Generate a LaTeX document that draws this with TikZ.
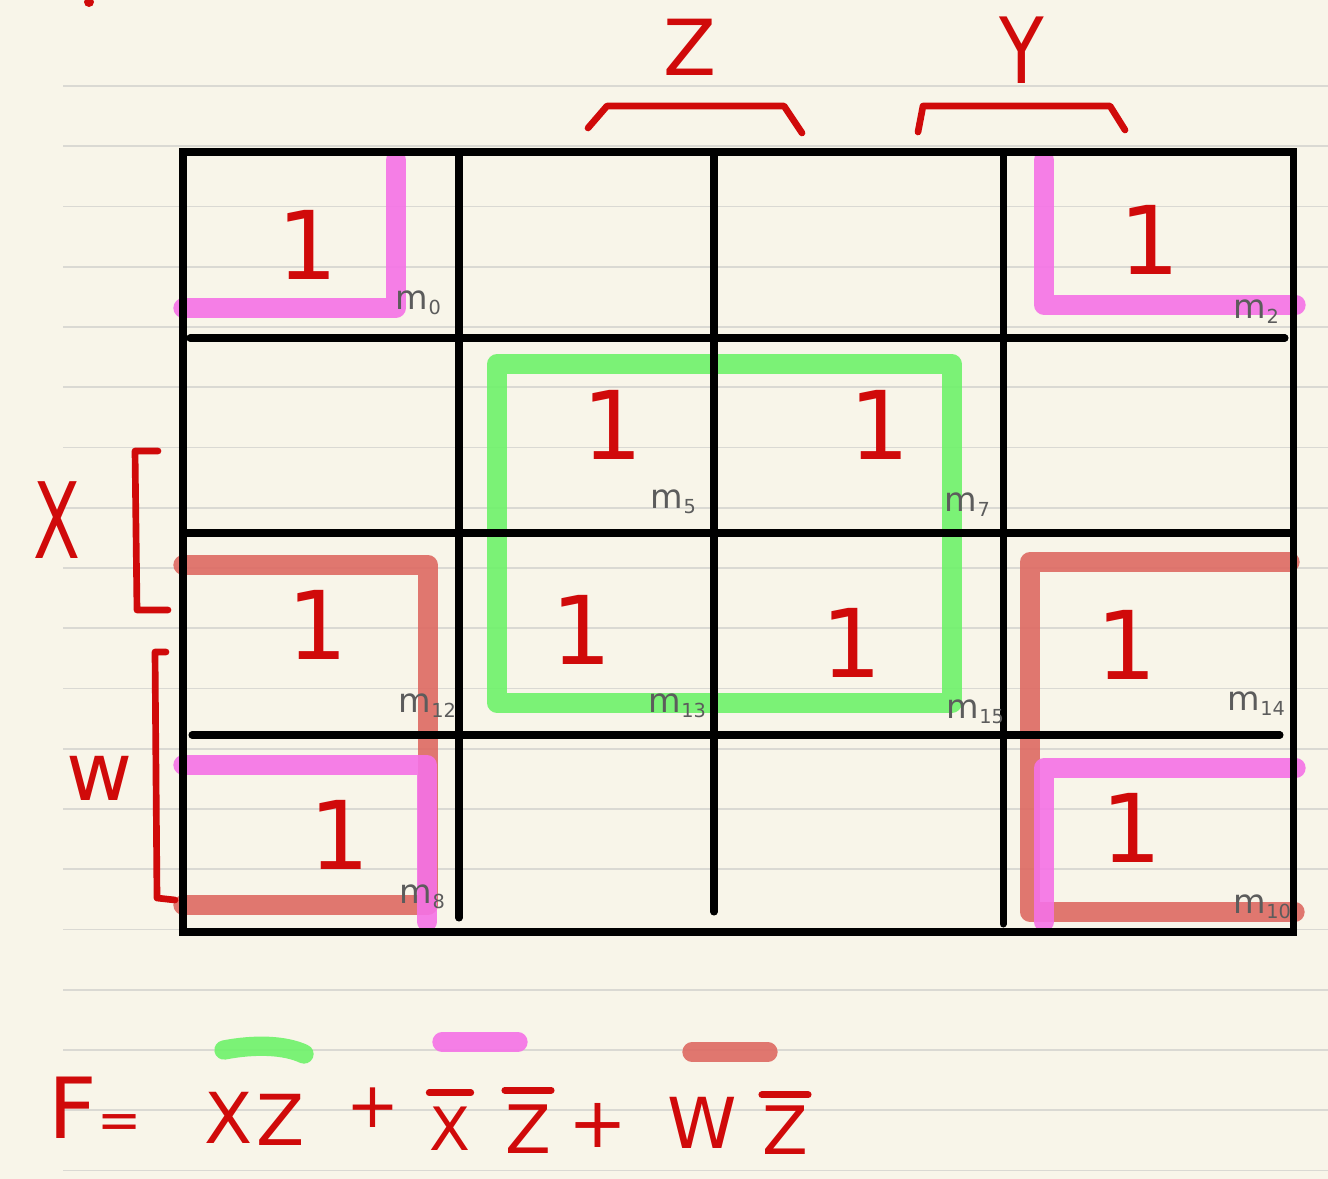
\documentclass[tikz,border=0pt]{standalone}
\usepackage{fontspec}
\setmainfont{DejaVu Sans}
\usepackage{xcolor}
\usepackage{tikz}
\usetikzlibrary{calc}
\definecolor{paper}{HTML}{F8F5E9}
\definecolor{rulegray}{HTML}{DAD9D3}
\definecolor{ink}{HTML}{D00A0A}
\definecolor{pencil}{HTML}{5C5C5C}
\definecolor{loopgreen}{HTML}{6EF26A}
\definecolor{looppink}{HTML}{F572E6}
\definecolor{loopred}{HTML}{DE6A62}
\tikzset{
    ruleline/.style = {draw=rulegray, line width=1.1pt},
    gridline/.style = {draw=black, line width=4pt, line cap=round},
    loopline/.style = {line width=11pt, line cap=round, line join=round, opacity=0.9},
    pen/.style      = {draw=ink, line width=3.8pt, line cap=round, line join=round},
    onecell/.style  = {text=ink, inner sep=0pt, font=\fontsize{54}{54}\selectfont},
    mlabel/.style   = {text=pencil, inner sep=0pt, font=\fontsize{19}{19}\selectfont},
    varlabel/.style = {text=ink, inner sep=0pt},
}
\newcommand{\mterm}[1]{m\kern0.5pt\raisebox{-3pt}{\fontsize{11}{11}\selectfont #1}}
\newcommand{\fsz}[1]{\fontsize{#1}{#1}\selectfont}

\begin{document}
\begin{tikzpicture}[x=0.02cm, y=-0.02cm]

% paper
\fill[paper] (0,0) rectangle (1328,1179);
\useasboundingbox (0,0) rectangle (1328,1179);
\foreach \k in {0,...,18}
    \draw[ruleline] (63,{86+60.25*\k}) -- (1328,{86+60.25*\k});
\fill[ink] (89,2) circle (5);

% groups
\draw[loopline, loopred] (183,565) -- (428,565) -- (428,905) -- (183,905);
\draw[loopline, loopred] (1290,562) -- (1030,562) -- (1030,912) -- (1295,912);
\draw[loopline, looppink] (396,160) -- (396,308) -- (183,308);
\draw[loopline, looppink] (1044,160) -- (1044,305) -- (1296,305);
\draw[loopline, looppink] (183,765) -- (427,765) -- (427,922);
\draw[loopline, looppink] (1296,768) -- (1044,768) -- (1044,922);
\draw[loopline, loopgreen] (497,364) -- (952,364) -- (952,703) -- (497,703) -- cycle;

% map
\draw[gridline] (183,152) rectangle (1293,932);
\draw[gridline] (459,152) -- (459,918);
\draw[gridline] (714,152) -- (714,912);
\draw[gridline] (1003,152) -- (1003,924);
\draw[gridline] (190,338) -- (1285,338);
\draw[gridline] (183,533) -- (1290,533);
\draw[gridline] (192,735) -- (1280,735);

% ones
\foreach \x/\y/\k in {308/245/0, 1150/240/2, 613/425/5, 880/425/7,
                      318/625/12, 582/630/13, 852/643/15, 1127/645/14,
                      340/835/8, 1132/828/10}
    \node[onecell] (one\k) at (\x,\y) {1};

% minterms
\foreach \x/\y/\k in {418/303/0, 1256/312/2, 673/502/5, 967/505/7,
                      427/706/12, 677/706/13, 975/712/15, 1256/704/14,
                      422/897/8, 1262/907/10}
    \node[mlabel] (m\k) at (\x,\y) {\mterm{\k}};

% variables
\node[varlabel, font=\fsz{44}] (varZ) at (690,47) {Z};
\node[varlabel, font=\fsz{52}] (varY) at (1022,50) {\scalebox{0.8}[1]{Y}};
\node[varlabel, font=\fsz{60}] (varX) at (57,520) {\scalebox{0.65}[1]{X}};
\node[varlabel, font=\fsz{46}] (varW) at (100,778) {w};
\draw[pen] (588,128) -- (607,106) -- (784,106) -- (802,133);
\draw[pen] (918,132) -- (923,106) -- (1110,106) -- (1125,130);
\draw[pen] (158,451) -- (135,451) -- (137,610) -- (168,610);
\draw[pen] (166,652) -- (155,652) -- (157,898) -- (175,900);

% result
\node[varlabel, font=\fsz{48}] (eqF) at (95,1108) {F\fsz{30}=};
\node[varlabel, font=\fsz{40}] (eqX1) at (229,1118) {X};
\node[varlabel, font=\fsz{40}] (eqZ1) at (281,1120) {Z};
\node[varlabel, font=\fsz{36}] (eqplus1) at (373,1108) {+};
\node[varlabel, font=\fsz{34}] (eqX2) at (450,1129) {X};
\node[varlabel, font=\fsz{38}] (eqZ2) at (528,1129) {Z};
\node[varlabel, font=\fsz{40}] (eqplus2) at (598,1125) {+};
\node[varlabel, font=\fsz{40}] (eqW) at (702,1123) {W};
\node[varlabel, font=\fsz{38}] (eqZ3) at (785,1130) {Z};
\draw[pen] ([yshift=8pt]eqX2.north west) -- ([yshift=8pt]eqX2.north east);
\draw[pen] ([yshift=8pt]eqZ2.north west) -- ([yshift=8pt]eqZ2.north east);
\draw[pen] ([yshift=6pt]eqZ3.north west) -- ([yshift=6pt]eqZ3.north east);
\draw[loopline, loopgreen] (224,1050) .. controls (255,1044) and (285,1045) .. (304,1054);
\draw[loopline, looppink] (442,1042) -- (518,1042);
\draw[loopline, loopred] (692,1052) -- (768,1052);

\end{tikzpicture}
\end{document}
